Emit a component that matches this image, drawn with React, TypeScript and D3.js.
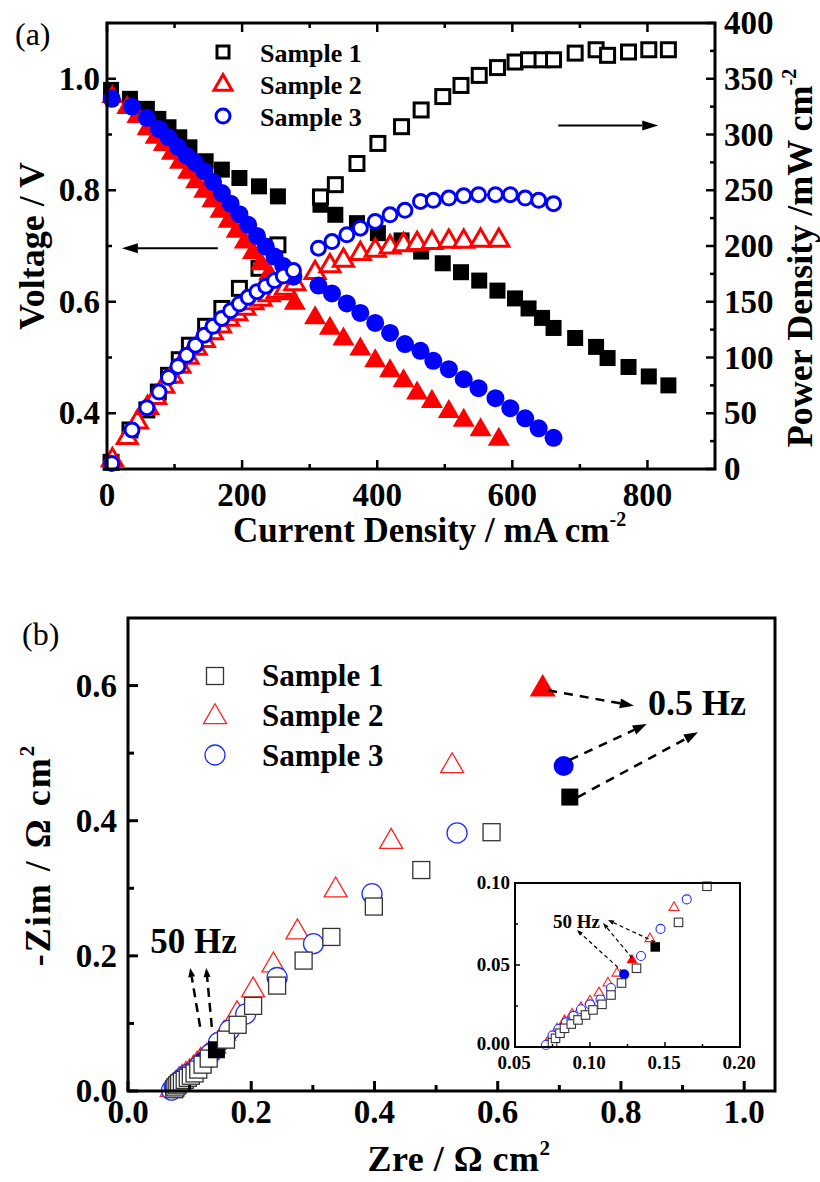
import React from 'react';
import * as d3 from 'd3';

const W = 820;
const H = 1182;
const FONT = '"Times New Roman", "Liberation Serif", serif';

// ---------- Panel (a) data: polarization & power density ----------
const s1Current = [6, 34, 59, 76, 91, 107, 122, 146, 170, 196, 225, 253, 316, 338, 370, 401, 436, 465, 497, 524, 551, 578, 604, 624, 644, 661, 693, 724, 741, 772, 802, 831];
const s1Voltage = [0.98, 0.964, 0.946, 0.928, 0.913, 0.895, 0.877, 0.852, 0.837, 0.822, 0.807, 0.789, 0.774, 0.756, 0.741, 0.723, 0.71, 0.69, 0.669, 0.653, 0.638, 0.62, 0.606, 0.588, 0.571, 0.553, 0.535, 0.519, 0.499, 0.483, 0.466, 0.45];
const s1Power = [6, 35, 53, 69, 84, 98, 111, 128, 144, 162, 180, 201, 244, 255, 274, 292, 307, 322, 334, 344, 353, 360, 365, 367, 367, 367, 373, 376, 371, 374, 376, 376];

const s2Current = [8, 30, 45, 60, 72, 84, 96, 108, 120, 132, 144, 156, 168, 180, 192, 204, 216, 228, 240, 252, 264, 278, 308, 330, 350, 375, 397, 419, 439, 459, 481, 506, 528, 553, 580];
const s2Voltage = [0.968, 0.948, 0.932, 0.91, 0.895, 0.882, 0.866, 0.85, 0.832, 0.815, 0.798, 0.781, 0.762, 0.744, 0.726, 0.707, 0.688, 0.668, 0.65, 0.632, 0.614, 0.597, 0.571, 0.552, 0.533, 0.515, 0.494, 0.476, 0.458, 0.436, 0.421, 0.403, 0.387, 0.37, 0.353];
const s2Power = [8, 28, 42, 55, 64, 74, 83, 92, 100, 108, 115, 122, 128, 134, 139, 144, 149, 152, 156, 159, 162, 166, 176, 182, 187, 193, 196, 199, 201, 202, 203, 204, 204, 205, 205];

const s3Current = [7, 37, 59, 77, 91, 105, 118, 131, 144, 157, 170, 183, 196, 209, 222, 235, 248, 261, 276, 313, 333, 355, 375, 397, 419, 441, 464, 483, 506, 528, 550, 575, 597, 619, 639, 661];
const s3Voltage = [0.964, 0.95, 0.93, 0.91, 0.895, 0.878, 0.862, 0.849, 0.834, 0.815, 0.795, 0.776, 0.757, 0.738, 0.718, 0.699, 0.681, 0.664, 0.645, 0.629, 0.615, 0.597, 0.58, 0.562, 0.544, 0.524, 0.512, 0.494, 0.479, 0.461, 0.445, 0.427, 0.409, 0.391, 0.373, 0.356];
const s3Power = [5, 35, 55, 69, 82, 92, 102, 111, 120, 128, 135, 142, 148, 154, 159, 164, 169, 173, 178, 198, 204, 210, 216, 222, 228, 232, 240, 241, 243, 245, 246, 246, 246, 243, 241, 238];

const aXTicks = [0, 200, 400, 600, 800];
const aXMinor = [100, 300, 500, 700];
const aVTicks = [0.4, 0.6, 0.8, 1.0];
const aVMinor = [0.5, 0.7, 0.9];
const aPTicks = [0, 50, 100, 150, 200, 250, 300, 350, 400];
const aPMinor = [25, 75, 125, 175, 225, 275, 325, 375];

// ---------- Panel (b) data: impedance (Nyquist) ----------
const s1Zre = [0.075, 0.077, 0.080, 0.083, 0.0875, 0.092, 0.097, 0.102, 0.108, 0.114, 0.121, 0.131, 0.1435, 0.159, 0.178, 0.203, 0.242, 0.285, 0.330, 0.399, 0.476, 0.590, 0.717];
const s1Zim = [0.0026, 0.0053, 0.0084, 0.0114, 0.014, 0.0165, 0.0195, 0.0226, 0.026, 0.0317, 0.039, 0.048, 0.061, 0.076, 0.098, 0.126, 0.156, 0.193, 0.228, 0.273, 0.327, 0.383, 0.435];
const s2Zre = [0.071, 0.074, 0.078, 0.083, 0.088, 0.094, 0.100, 0.106, 0.112, 0.118, 0.128, 0.140, 0.156, 0.177, 0.203, 0.236, 0.275, 0.337, 0.427, 0.526, 0.673];
const s2Zim = [0.002, 0.006, 0.011, 0.016, 0.020, 0.024, 0.028, 0.033, 0.039, 0.045, 0.053, 0.066, 0.085, 0.114, 0.149, 0.186, 0.235, 0.297, 0.369, 0.481, 0.595];
const s3Zre = [0.0706, 0.075, 0.079, 0.084, 0.089, 0.094, 0.100, 0.107, 0.114, 0.1228, 0.134, 0.147, 0.1645, 0.191, 0.242, 0.301, 0.396, 0.534, 0.707];
const s3Zim = [0.0012, 0.007, 0.011, 0.015, 0.019, 0.023, 0.026, 0.029, 0.036, 0.0443, 0.0555, 0.072, 0.090, 0.114, 0.168, 0.218, 0.292, 0.382, 0.481];
const hz50Index = [12, 10, 9]; // filled point at 50 Hz for samples 1,2,3

const bXTicks = [0, 0.2, 0.4, 0.6, 0.8, 1.0];
const bXMinor = [0.1, 0.3, 0.5, 0.7, 0.9];
const bYTicks = [0, 0.2, 0.4, 0.6];
const bYMinor = [0.1, 0.3, 0.5];
const inXTicks = [0.05, 0.10, 0.15, 0.20];
const inXMinor = [0.075, 0.125, 0.175];
const inYTicks = [0, 0.05, 0.10];
const inYMinor = [0.025, 0.075];

const legendLabels = ['Sample 1', 'Sample 2', 'Sample 3'];
const colors = ['#000000', '#ff0000', '#0000ff'];
const bStroke = ['#333333', '#ff2020', '#2030ff'];

// ---------- scales ----------
const ax = d3.scaleLinear().domain([0, 900]).range([107, 715]);
const av = d3.scaleLinear().domain([0.3, 1.1]).range([469, 23]);
const ap = d3.scaleLinear().domain([0, 400]).range([469, 23]);

const bx = d3.scaleLinear().domain([0, 1.05]).range([128, 775]);
const by = d3.scaleLinear().domain([0, 0.7]).range([1091, 618]);

const ix = d3.scaleLinear().domain([0.05, 0.2]).range([515, 740]);
const iy = d3.scaleLinear().domain([0, 0.1]).range([1047, 883]);

type Shape = 'square' | 'triangle' | 'circle';
const shapes: Shape[] = ['square', 'triangle', 'circle'];

function Marker(props: { shape: Shape; x: number; y: number; size: number; fill: string; stroke: string; sw: number }) {
  const { shape, x, y, size, fill, stroke, sw } = props;
  if (shape === 'square') {
    return <rect x={x - size / 2} y={y - size / 2} width={size} height={size} fill={fill} stroke={stroke} strokeWidth={sw} />;
  }
  if (shape === 'circle') {
    return <circle cx={x} cy={y} r={size / 2} fill={fill} stroke={stroke} strokeWidth={sw} />;
  }
  const h = size * 0.866;
  const d = `M${x},${y - (h * 2) / 3}L${x - size / 2},${y + h / 3}L${x + size / 2},${y + h / 3}Z`;
  return <path d={d} fill={fill} stroke={stroke} strokeWidth={sw} strokeLinejoin="miter" />;
}

function Arrow(props: { x1: number; y1: number; x2: number; y2: number; sw: number; dash?: string; head: number; hw: number }) {
  const { x1, y1, x2, y2, sw, dash, head, hw } = props;
  const ang = Math.atan2(y2 - y1, x2 - x1);
  const bx0 = x2 - head * Math.cos(ang);
  const by0 = y2 - head * Math.sin(ang);
  const px = -Math.sin(ang) * hw / 2;
  const py = Math.cos(ang) * hw / 2;
  return (
    <g>
      <line x1={x1} y1={y1} x2={bx0} y2={by0} stroke="#000" strokeWidth={sw} strokeDasharray={dash} />
      <path d={`M${x2},${y2}L${bx0 + px},${by0 + py}L${bx0 - px},${by0 - py}Z`} fill="#000" />
    </g>
  );
}

const aSeries = [
  { cur: s1Current, v: s1Voltage, p: s1Power },
  { cur: s2Current, v: s2Voltage, p: s2Power },
  { cur: s3Current, v: s3Voltage, p: s3Power },
];
const bSeries = [
  { zre: s1Zre, zim: s1Zim },
  { zre: s2Zre, zim: s2Zim },
  { zre: s3Zre, zim: s3Zim },
];

const filledSize = { square: 16, triangle: 22, circle: 18 };
const openSize = { square: 14, triangle: 20, circle: 14 };
const bSize = { square: 17, triangle: 23, circle: 20 };
const inSize = { square: 8.5, triangle: 10, circle: 9 };

export default function App() {
  const tickFont = { fontFamily: FONT, fontWeight: 'bold' as const, fontSize: 33 };
  const bOrder = [1, 2, 0]; // red, blue, black on top

  return (
    <svg width={W} height={H} style={{ position: 'absolute', left: 0, top: 0, background: '#fff' }}>
      <rect x={0} y={0} width={W} height={H} fill="#fff" />

      {/* ================= Panel (a) ================= */}
      <text x={15} y={45} fontFamily={FONT} fontSize={32}>(a)</text>

      {aSeries.map((s, si) => (
        <g key={'a' + si}>
          {s.cur.map((c, i) => (
            <Marker key={'v' + i} shape={shapes[si]} x={ax(c)} y={av(s.v[i])} size={filledSize[shapes[si]]} fill={colors[si]} stroke="none" sw={0} />
          ))}
          {s.cur.map((c, i) => (
            <Marker key={'p' + i} shape={shapes[si]} x={ax(c)} y={ap(s.p[i])} size={openSize[shapes[si]]} fill="#fff" stroke={colors[si]} sw={3} />
          ))}
        </g>
      ))}

      <rect x={ax(0)} y={ap(400)} width={ax(900) - ax(0)} height={ap(0) - ap(400)} fill="none" stroke="#000" strokeWidth={3} />

      {aXTicks.map((t) => (
        <g key={'axt' + t}>
          <line x1={ax(t)} x2={ax(t)} y1={469} y2={460} stroke="#000" strokeWidth={2.5} />
          <line x1={ax(t)} x2={ax(t)} y1={23} y2={32} stroke="#000" strokeWidth={2.5} />
          <text x={ax(t)} y={506} textAnchor="middle" {...tickFont}>{t}</text>
        </g>
      ))}
      {aXMinor.map((t) => (
        <g key={'axm' + t}>
          <line x1={ax(t)} x2={ax(t)} y1={469} y2={464} stroke="#000" strokeWidth={2.5} />
          <line x1={ax(t)} x2={ax(t)} y1={23} y2={28} stroke="#000" strokeWidth={2.5} />
        </g>
      ))}
      {aVTicks.map((t) => (
        <g key={'avt' + t}>
          <line x1={107} x2={116} y1={av(t)} y2={av(t)} stroke="#000" strokeWidth={2.5} />
          <text x={100} y={av(t)} dy="0.34em" textAnchor="end" {...tickFont}>{t.toFixed(1)}</text>
        </g>
      ))}
      {aVMinor.map((t) => (
        <line key={'avm' + t} x1={107} x2={112} y1={av(t)} y2={av(t)} stroke="#000" strokeWidth={2.5} />
      ))}
      {aPTicks.map((t) => (
        <g key={'apt' + t}>
          <line x1={715} x2={706} y1={ap(t)} y2={ap(t)} stroke="#000" strokeWidth={2.5} />
          <text x={724} y={ap(t)} dy="0.34em" textAnchor="start" {...tickFont}>{t}</text>
        </g>
      ))}
      {aPMinor.map((t) => (
        <line key={'apm' + t} x1={715} x2={710} y1={ap(t)} y2={ap(t)} stroke="#000" strokeWidth={2.5} />
      ))}

      <text transform={`translate(44,${(23 + 469) / 2}) rotate(-90)`} textAnchor="middle" fontFamily={FONT} fontWeight="bold" fontSize={36}>Voltage / V</text>
      <text transform={`translate(812,258) rotate(-90)`} textAnchor="middle" fontFamily={FONT} fontWeight="bold" fontSize={36}>
        Power Density /mW cm<tspan fontSize={20} dy={-16}>-2</tspan>
      </text>
      <text x={233} y={542} fontFamily={FONT} fontWeight="bold" fontSize={35}>
        Current Density / mA cm<tspan fontSize={20} dy={-16}>-2</tspan>
      </text>

      <Arrow x1={ax(164)} y1={av(0.696)} x2={ax(22)} y2={av(0.696)} sw={2} head={16} hw={10} />
      <Arrow x1={ax(668)} y1={ap(308)} x2={ax(816)} y2={ap(308)} sw={2} head={16} hw={10} />

      {legendLabels.map((l, i) => (
        <g key={'la' + i}>
          <Marker shape={shapes[i]} x={223} y={[52, 85, 116][i]} size={[12, 18, 14][i]} fill="#fff" stroke={colors[i]} sw={3} />
          <text x={260} y={[62, 94, 126][i]} fontFamily={FONT} fontWeight="bold" fontSize={26}>{l}</text>
        </g>
      ))}

      {/* ================= Panel (b) ================= */}
      <text x={22} y={645} fontFamily={FONT} fontSize={32}>(b)</text>

      {bOrder.map((si) => {
        const s = bSeries[si];
        const last = s.zre.length - 1;
        return (
          <g key={'b' + si}>
            {s.zre.map((z, i) => {
              const filled = i === last || i === hz50Index[si];
              const sz = i === last && si === 1 ? 26 : bSize[shapes[si]];
              return (
                <Marker key={i} shape={shapes[si]} x={bx(z)} y={by(s.zim[i])} size={filled ? sz : bSize[shapes[si]]}
                  fill={filled ? colors[si] : '#fff'} stroke={filled ? 'none' : bStroke[si]} sw={1.3} />
              );
            })}
          </g>
        );
      })}

      <rect x={bx(0)} y={by(0.7)} width={bx(1.05) - bx(0)} height={by(0) - by(0.7)} fill="none" stroke="#000" strokeWidth={3} />
      {bXTicks.map((t) => (
        <g key={'bxt' + t}>
          <line x1={bx(t)} x2={bx(t)} y1={1091} y2={1081} stroke="#000" strokeWidth={3} />
          <text x={bx(t)} y={1123} textAnchor="middle" {...tickFont}>{t.toFixed(1)}</text>
        </g>
      ))}
      {bXMinor.map((t) => (
        <line key={'bxm' + t} x1={bx(t)} x2={bx(t)} y1={1091} y2={1085} stroke="#000" strokeWidth={3} />
      ))}
      {bYTicks.map((t) => (
        <g key={'byt' + t}>
          <line x1={128} x2={138} y1={by(t)} y2={by(t)} stroke="#000" strokeWidth={3} />
          <text x={117} y={by(t)} dy="0.34em" textAnchor="end" {...tickFont}>{t.toFixed(1)}</text>
        </g>
      ))}
      {bYMinor.map((t) => (
        <line key={'bym' + t} x1={128} x2={134} y1={by(t)} y2={by(t)} stroke="#000" strokeWidth={3} />
      ))}

      <text transform={`translate(50,855) rotate(-90)`} textAnchor="middle" fontFamily={FONT} fontWeight="bold" fontSize={36} letterSpacing={2}>
        -Zim / Ω cm<tspan fontSize={21} dy={-16}>2</tspan>
      </text>
      <text x={459} y={1171} textAnchor="middle" fontFamily={FONT} fontWeight="bold" fontSize={36} letterSpacing={0.5}>
        Zre / Ω cm<tspan fontSize={21} dy={-16}>2</tspan>
      </text>

      {legendLabels.map((l, i) => (
        <g key={'lb' + i}>
          <Marker shape={shapes[i]} x={215} y={[676, 717, 755][i]} size={[17, 23, 20][i]} fill="#fff" stroke={bStroke[i]} sw={1.3} />
          <text x={262} y={[686, 726, 766][i]} fontFamily={FONT} fontWeight="bold" fontSize={31}>{l}</text>
        </g>
      ))}

      <text x={bx(0.844)} y={by(0.556)} fontFamily={FONT} fontWeight="bold" fontSize={36}>0.5 Hz</text>
      <Arrow x1={bx(0.682)} y1={by(0.593)} x2={bx(0.821)} y2={by(0.570)} sw={2.5} dash="9,7" head={14} hw={10} />
      <Arrow x1={bx(0.717)} y1={by(0.490)} x2={bx(0.842)} y2={by(0.543)} sw={2.5} dash="9,7" head={14} hw={10} />
      <Arrow x1={bx(0.730)} y1={by(0.435)} x2={bx(0.925)} y2={by(0.531)} sw={2.5} dash="9,7" head={14} hw={10} />

      <text x={bx(0.036)} y={by(0.204)} fontFamily={FONT} fontWeight="bold" fontSize={35}>50 Hz</text>
      <Arrow x1={bx(0.117)} y1={by(0.095)} x2={bx(0.101)} y2={by(0.182)} sw={2.5} dash="9,6" head={9} hw={7} />
      <Arrow x1={bx(0.136)} y1={by(0.095)} x2={bx(0.127)} y2={by(0.182)} sw={2.5} dash="9,6" head={9} hw={7} />

      {/* ================= Inset ================= */}
      <rect x={ix(0.05)} y={iy(0.1)} width={ix(0.2) - ix(0.05)} height={iy(0) - iy(0.1)} fill="#fff" stroke="none" />
      {bOrder.map((si) => {
        const s = bSeries[si];
        return (
          <g key={'in' + si}>
            {s.zre.map((z, i) => {
              if (z < 0.05 || z > 0.2 || s.zim[i] > 0.1) return null;
              const filled = i === hz50Index[si];
              return (
                <Marker key={i} shape={shapes[si]} x={ix(z)} y={iy(s.zim[i])} size={filled ? inSize[shapes[si]] + 1 : inSize[shapes[si]]}
                  fill={filled ? colors[si] : '#fff'} stroke={filled ? 'none' : bStroke[si]} sw={1.1} />
              );
            })}
          </g>
        );
      })}
      <rect x={ix(0.05)} y={iy(0.1)} width={ix(0.2) - ix(0.05)} height={iy(0) - iy(0.1)} fill="none" stroke="#000" strokeWidth={2} />
      {inXTicks.map((t) => (
        <g key={'ixt' + t}>
          <line x1={ix(t)} x2={ix(t)} y1={1047} y2={1042} stroke="#000" strokeWidth={1.5} />
          <text x={ix(t) - 1} y={1069} textAnchor="middle" fontFamily={FONT} fontWeight="bold" fontSize={19}>{t.toFixed(2)}</text>
        </g>
      ))}
      {inXMinor.map((t) => (
        <line key={'ixm' + t} x1={ix(t)} x2={ix(t)} y1={1047} y2={1044} stroke="#000" strokeWidth={1.5} />
      ))}
      {inYTicks.map((t) => (
        <g key={'iyt' + t}>
          <line x1={515} x2={520} y1={iy(t)} y2={iy(t)} stroke="#000" strokeWidth={1.5} />
          <text x={510} y={iy(t) - (t === 0 ? 3 : 0)} dy="0.3em" textAnchor="end" fontFamily={FONT} fontWeight="bold" fontSize={19}>{t.toFixed(2)}</text>
        </g>
      ))}
      {inYMinor.map((t) => (
        <line key={'iym' + t} x1={515} x2={518} y1={iy(t)} y2={iy(t)} stroke="#000" strokeWidth={1.5} />
      ))}
      <text x={ix(0.0753)} y={iy(0.0726)} fontFamily={FONT} fontWeight="bold" fontSize={19}>50 Hz</text>
      <Arrow x1={ix(0.1433)} y1={iy(0.064)} x2={ix(0.112)} y2={iy(0.0774)} sw={1.2} dash="4,3" head={6} hw={4.5} />
      <Arrow x1={ix(0.128)} y1={iy(0.0543)} x2={ix(0.1087)} y2={iy(0.0756)} sw={1.2} dash="4,3" head={6} hw={4.5} />
      <Arrow x1={ix(0.122)} y1={iy(0.0457)} x2={ix(0.0913)} y2={iy(0.0713)} sw={1.2} dash="4,3" head={6} hw={4.5} />
    </svg>
  );
}
